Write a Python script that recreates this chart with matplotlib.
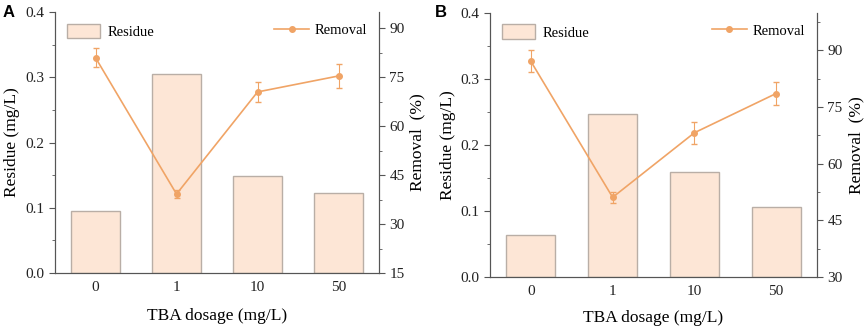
import matplotlib as mpl

mpl.use("Agg")
import matplotlib.pyplot as plt
import numpy as np
from matplotlib.ticker import MultipleLocator, FormatStrFormatter

plt.rcParams["font.family"] = ["Liberation Serif", "DejaVu Serif"]

dosages = ["0", "1", "10", "50"]

residue_a = [0.095, 0.305, 0.148, 0.123]
removal_a = [81.0, 39.2, 70.5, 75.4]
removal_err_a = [3.0, 1.2, 3.1, 3.7]

residue_b = [0.064, 0.246, 0.159, 0.106]
removal_b = [87.1, 51.1, 68.2, 78.6]
removal_err_b = [2.9, 1.5, 2.9, 3.1]

BAR_FILL = "#fde6d6"
BAR_EDGE = "#b9aea6"
LINE_COLOR = "#f0a466"


def draw_panel(fig, rect, residue, removal, removal_err, right_lim, label,
               label_x, coords):
    ax = fig.add_axes(rect)
    x = np.arange(len(dosages))
    ax.bar(x, residue, width=0.6, color=BAR_FILL, edgecolor=BAR_EDGE,
           linewidth=1.0, label="Residue")
    ax.set_xlim(-0.5, len(dosages) - 0.5)
    ax.set_ylim(0, 0.4)
    ax.yaxis.set_major_locator(MultipleLocator(0.1))
    ax.yaxis.set_minor_locator(MultipleLocator(0.05))
    ax.yaxis.set_major_formatter(FormatStrFormatter("%.1f"))
    ax.set_xticks(x)
    ax.set_xticklabels(dosages)
    ax.set_xlabel("TBA dosage (mg/L)", fontsize=12.5)
    ax.set_ylabel("Residue (mg/L)", fontsize=12.5)
    ax.spines["top"].set_visible(False)

    ax2 = ax.twinx()
    ax2.errorbar(x, removal, yerr=removal_err, fmt="none", ecolor=LINE_COLOR,
                 capsize=2.5, elinewidth=0.8)
    ax2.plot(x, removal, color=LINE_COLOR, marker="o", markersize=4,
             linewidth=1.2, label="Removal")
    ax2.set_ylim(*right_lim)
    ax2.yaxis.set_major_locator(MultipleLocator(15))
    ax2.yaxis.set_minor_locator(MultipleLocator(7.5))
    ax2.set_ylabel("Removal  (%)", fontsize=12.5)
    ax2.spines["top"].set_visible(False)

    # label positions (axes coords)
    left_x, right_x, bottom_y = coords
    ax.yaxis.set_label_coords(left_x, 0.5)
    ax2.yaxis.set_label_coords(right_x, 0.5)
    ax.xaxis.set_label_coords(0.5, bottom_y)

    for a in (ax, ax2):
        for s in a.spines.values():
            s.set_color("#555555")
        a.tick_params(which="both", direction="out", colors="#555555",
                      labelcolor="#222222", labelsize=11)
        a.tick_params(which="major", length=4)
        a.tick_params(which="minor", length=2.5)
    ax.tick_params(axis="x", length=0, pad=5.5)

    ax.legend(loc="upper left", frameon=False, fontsize=10.5,
              handlelength=2.3, handleheight=1.15, handletextpad=0.5,
              borderaxespad=0.4)
    ax2.legend(loc="upper right", frameon=False, fontsize=10.5,
               handlelength=2.4, handletextpad=0.4, borderaxespad=0.4)

    fig.text(label_x, 0.948, label, fontsize=12, fontweight="bold",
             family="Liberation Sans", va="baseline")
    return ax, ax2


fig = plt.figure(figsize=(8.65, 3.3), dpi=100)
draw_panel(fig, [0.0636, 0.1727, 0.3746, 0.7909],
           residue_a, removal_a, removal_err_a, (15, 95), "A",
           0.003, (-0.108, 1.093, -0.134))
draw_panel(fig, [0.5665, 0.1606, 0.3780, 0.8009],
           residue_b, removal_b, removal_err_b, (30, 100), "B",
           0.503, (-0.104, 1.095, -0.125))
fig.savefig("out.png", dpi=100)
plt.close(fig)
